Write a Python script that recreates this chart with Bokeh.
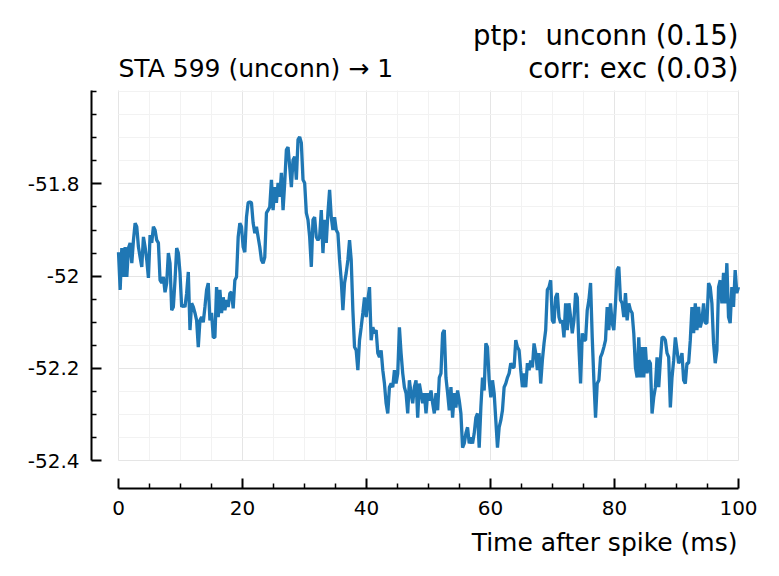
import numpy as np
from bokeh.plotting import figure
from bokeh.models import Range1d, FixedTicker, CustomJSTickFormatter
from bokeh.core.properties import value
from bokeh.embed import file_html
from bokeh.resources import INLINE

# membrane potential (mV), spike-triggered average, sampled uniformly over 0..100 ms
v = [
    -51.948, -52.030, -51.939, -52.002, -51.937, -52.002, -51.939, -51.928, -51.972, -51.922,
    -51.885, -51.893, -51.937, -51.959, -51.980, -51.915, -51.937, -51.965, -52.004, -51.911,
    -51.928, -51.893, -51.900, -51.922, -51.928, -52.009, -52.015, -52.002, -52.035, -52.015,
    -51.950, -51.972, -52.074, -52.067, -52.009, -51.939, -51.950, -51.993, -52.067, -52.063,
    -52.067, -52.037, -51.991, -52.117, -52.059, -52.067, -52.080, -52.096, -52.154, -52.096,
    -52.089, -52.100, -52.067, -52.030, -52.015, -52.096, -52.080, -52.133,
    -52.133, -52.024, -52.089, -52.030, -52.080, -52.046, -52.074, -52.052, -52.067, -52.037,
    -52.035, -52.070, -52.009, -52.002, -51.915, -51.885, -51.893, -51.937, -51.948, -51.872,
    -51.841, -51.839, -51.841, -51.885, -51.907, -51.893, -51.915, -51.937, -51.965, -51.972,
    -51.959, -51.863, -51.857, -51.850, -51.791, -51.857, -51.807, -51.841, -51.798, -51.828,
    -51.776, -51.857, -51.798, -51.726, -51.720, -51.763, -51.807, -51.748, -51.741, -51.791,
    -51.704, -51.698, -51.711, -51.791, -51.798, -51.863, -51.878, -51.915, -51.980, -51.878,
    -51.872, -51.915, -51.922,
    -51.915, -51.857, -51.950, -51.878, -51.928, -51.863, -51.813, -51.872, -51.900, -51.872,
    -51.900, -51.907, -51.965, -52.009, -52.074, -52.015, -51.993, -51.965, -51.922, -51.965,
    -52.074, -52.154, -52.161, -52.204, -52.139, -52.111, -52.080, -52.046, -52.089, -52.052,
    -52.024, -52.139, -52.111, -52.124, -52.117, -52.167, -52.176, -52.161, -52.204, -52.233,
    -52.276, -52.298, -52.241, -52.233, -52.241, -52.204, -52.233, -52.211, -52.111, -52.167,
    -52.211, -52.241, -52.254, -52.298, -52.226, -52.254, -52.276, -52.241, -52.226, -52.307,
    -52.233, -52.254, -52.276, -52.254,
    -52.298, -52.254, -52.270, -52.248, -52.276, -52.298, -52.254, -52.291, -52.220, -52.211,
    -52.124, -52.117, -52.220, -52.254, -52.291, -52.241, -52.307, -52.254, -52.285, -52.248,
    -52.270, -52.298, -52.372, -52.363, -52.341, -52.328, -52.363, -52.350, -52.363, -52.341,
    -52.307, -52.298, -52.372, -52.285, -52.220, -52.248, -52.146, -52.154, -52.226, -52.263,
    -52.226, -52.254, -52.313, -52.372, -52.328, -52.313, -52.291, -52.241, -52.233, -52.220,
    -52.211, -52.189, -52.198, -52.198, -52.139, -52.154, -52.161, -52.204, -52.241, -52.211,
    -52.241, -52.189, -52.204,
    -52.183, -52.198, -52.146, -52.167, -52.204, -52.167, -52.233, -52.183, -52.146, -52.117,
    -52.030, -52.024, -52.009, -52.096, -52.102, -52.046, -52.037, -52.089, -52.102, -52.096,
    -52.133, -52.059, -52.117, -52.059, -52.089, -52.124, -52.096, -52.037, -52.046, -52.154,
    -52.233, -52.124, -52.139, -52.139, -52.074, -52.052, -52.015, -52.133, -52.226, -52.307,
    -52.233, -52.226, -52.176, -52.167, -52.154, -52.139, -52.067, -52.117, -52.059, -52.102,
    -52.117, -52.059, -51.987, -51.980, -52.052, -52.059, -52.089, -52.037, -52.096, -52.059,
    -52.074, -52.080, -52.124, -52.198, -52.220, -52.133, -52.220, -52.154, -52.220, -52.154,
    -52.211, -52.183, -52.189, -52.298, -52.263, -52.241, -52.176, -52.241, -52.183, -52.133,
    -52.133, -52.139, -52.167, -52.176, -52.285, -52.220, -52.183, -52.133, -52.161, -52.189,
    -52.183, -52.167, -52.226, -52.233, -52.189, -52.189, -52.139, -52.067, -52.124, -52.059,
    -52.117, -52.067, -52.111, -52.096, -52.059, -52.102, -52.102, -52.015, -52.024, -52.059,
    -52.146, -52.189, -52.161, -52.024, -52.009, -52.059, -51.993, -52.059, -51.972, -52.089,
    -52.102, -52.024, -52.067, -51.987, -52.037, -52.024,
]
t = np.linspace(0.0, 100.0, len(v))

x_major = [0, 20, 40, 60, 80, 100]
x_minor = [5, 10, 15, 25, 30, 35, 45, 50, 55, 65, 70, 75, 85, 90, 95]
y_major = [-52.4, -52.2, -52.0, -51.8]
y_minor = [-52.35, -52.3, -52.25, -52.15, -52.1, -52.05, -51.95, -51.9, -51.85,
           -51.75, -51.7, -51.65, -51.6]

title_left = "STA 599 (unconn) \u2192 1"
title_right1 = "ptp:\u00a0 unconn (0.15)"
title_right2 = "corr: exc (0.03)"
x_label = "Time after spike (ms)"

FONT = "DejaVu Sans"
W, H = 763, 572

# layout: pixel geometry of the canvas (frame covers the whole canvas)
PX_X0, PX_PER_X = 118.0, 6.2        # pixel of x=0, pixels per ms
PX_Y0, PX_PER_Y = 460.0, 461.0      # pixel of y=-52.4, pixels per mV
Y_BASE = -52.4

def dx(px):
    return (px - PX_X0) / PX_PER_X

def dy(py):
    return Y_BASE + (PX_Y0 - py) / PX_PER_Y

p = figure(output_backend="svg", toolbar_location=None, width=W, height=H,
           min_border=0, min_border_left=0, min_border_right=0,
           min_border_top=0, min_border_bottom=0,
           x_range=Range1d(dx(0), dx(W)), y_range=Range1d(dy(H), dy(0)))
p.title.visible = False
p.outline_line_color = None
p.background_fill_color = "white"
p.border_fill_color = "white"

Y_TOP = dy(90)
fmt = CustomJSTickFormatter(code="return (Math.round(tick*10)/10).toString();")

xa, ya = p.xaxis[0], p.yaxis[0]
xa.fixed_location = dy(488)
ya.fixed_location = dx(91)
for ax, major, minor, bounds in ((xa, x_major, x_minor, (0, 100)),
                                 (ya, y_major, y_minor, (-52.4, Y_TOP))):
    ax.ticker = FixedTicker(ticks=major, minor_ticks=minor)
    ax.formatter = fmt
    ax.bounds = bounds
    ax.axis_line_color = "black"
    ax.axis_line_width = 2
    ax.major_tick_in = 10
    ax.major_tick_out = 0
    ax.minor_tick_in = 5
    ax.minor_tick_out = 0
    ax.major_tick_line_width = 2
    ax.minor_tick_line_width = 1.5
    ax.major_tick_line_color = "black"
    ax.minor_tick_line_color = "black"
    ax.major_label_text_font = FONT
    ax.major_label_text_font_size = "20px"
    ax.major_label_text_color = "black"

xa.major_label_standoff = 12
ya.major_label_standoff = 12

p.xgrid[0].cross_bounds = (-52.4, Y_TOP)
p.ygrid[0].cross_bounds = (0, 100)
for g in (p.xgrid[0], p.ygrid[0]):
    g.grid_line_color = "#e5e5e5"
    g.grid_line_width = 1
    g.minor_grid_line_color = "#f2f2f2"
    g.minor_grid_line_width = 1

p.line(t, v, line_width=3.3, line_color="#1f77b4")

def put_text(px, py, txt, align, size):
    p.text(x=[dx(px)], y=[dy(py)], text=[txt], text_align=align,
           text_baseline="alphabetic", text_font=value(FONT),
           text_font_size=value(size), text_color="black")

put_text(118, 68, title_left, "left", "25px")
put_text(738, 67, title_right2, "right", "27.5px")
put_text(738, 34, title_right1, "right", "27.5px")
put_text(737, 542, x_label, "right", "25px")

open("out.html", "w").write(file_html(p, INLINE))
